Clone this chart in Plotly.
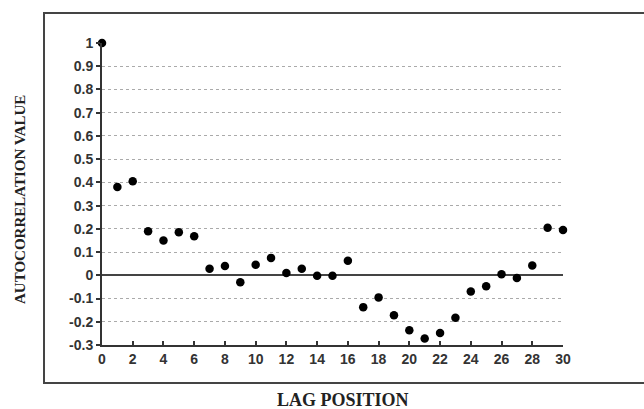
import plotly.graph_objects as go

lags = list(range(0, 31))
acf = [1.0, 0.38, 0.405, 0.19, 0.15, 0.185, 0.168, 0.028, 0.04, -0.03,
       0.045, 0.075, 0.01, 0.028, -0.002, -0.002, 0.063, -0.137, -0.095, -0.172,
       -0.237, -0.272, -0.248, -0.183, -0.07, -0.047, 0.005, -0.012, 0.042, 0.205,
       0.195]
x_ticks = list(range(0, 31, 2))
y_ticks = [round(-0.3 + 0.1 * i, 1) for i in range(14)]
y_tick_text = ["1" if v == 1 else ("0" if v == 0 else f"{v:g}") for v in y_ticks]

fig = go.Figure()
fig.add_trace(go.Scatter(
    x=lags, y=acf, mode="markers",
    marker=dict(color="black", size=8.5),
    cliponaxis=False, showlegend=False,
))

tickfont = dict(family="Liberation Sans, Arial, sans-serif", size=14, color="#333333", weight="bold")

fig.update_layout(
    width=644, height=409,
    margin=dict(l=102, r=81, t=43, b=64),
    paper_bgcolor="white", plot_bgcolor="white",
    xaxis=dict(
        range=[0, 30], tickvals=x_ticks, ticktext=[str(v) for v in x_ticks],
        showgrid=False, zeroline=False,
        showline=True, linecolor="#333333", linewidth=2,
        ticks="inside", ticklen=4, tickcolor="#333333", tickwidth=1.5,
        tickfont=tickfont,
    ),
    yaxis=dict(
        range=[-0.3, 1.0], tickvals=y_ticks, ticktext=y_tick_text,
        showgrid=True, gridcolor="#aaaaaa", gridwidth=1, griddash="dot",
        zeroline=True, zerolinecolor="#444444", zerolinewidth=1.5,
        showline=True, linecolor="#333333", linewidth=2,
        ticks="outside", ticklen=4, tickcolor="#333333", tickwidth=1.5,
        tickfont=tickfont,
    ),
    shapes=[dict(
        type="rect", xref="paper", yref="paper",
        x0=-0.1258, x1=1.21, y0=-0.1258, y1=1.099,
        line=dict(color="#444444", width=2), fillcolor="rgba(0,0,0,0)",
        layer="below",
    )],
    annotations=[
        dict(text="AUTOCORRELATION VALUE", xref="paper", yref="paper",
             x=(20 - 102) / 461, y=(345 - 200) / 302, textangle=-90, showarrow=False,
             xanchor="center", yanchor="middle",
             font=dict(family="Liberation Serif, Times New Roman, serif", size=15,
                       color="#222222", weight="bold")),
        dict(text="LAG POSITION", xref="paper", yref="paper",
             x=(343 - 102) / 461, y=(345 - 400) / 302, showarrow=False,
             xanchor="center", yanchor="middle",
             font=dict(family="Liberation Serif, Times New Roman, serif", size=18,
                       color="#222222", weight="bold")),
    ],
)

fig.write_html("out.html")
